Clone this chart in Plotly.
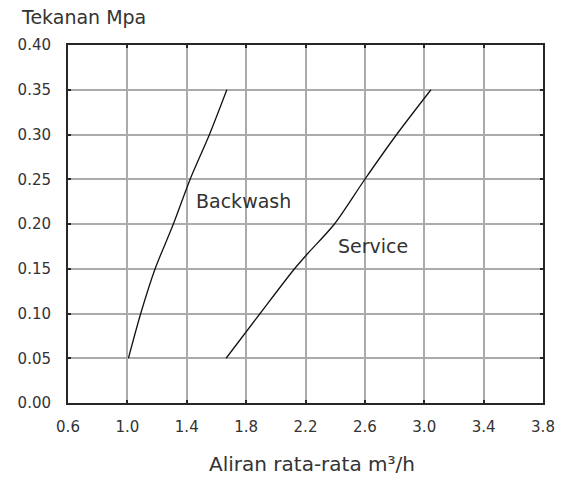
import plotly.graph_objects as go

backwash_x = [1.007, 1.09, 1.187, 1.31, 1.423, 1.553, 1.67]
backwash_y = [0.05, 0.10, 0.15, 0.20, 0.25, 0.30, 0.35]
service_x = [1.665, 1.894, 2.126, 2.215, 2.395, 2.60, 2.814, 3.045]
service_y = [0.05, 0.10, 0.15, 0.167, 0.20, 0.25, 0.30, 0.35]

x_ticks = [0.6, 1.0, 1.4, 1.8, 2.2, 2.6, 3.0, 3.4, 3.8]
x_tick_labels = ["0.6", "1.0", "1.4", "1.8", "2.2", "2.6", "3.0", "3.4", "3.8"]
y_ticks = [0.00, 0.05, 0.10, 0.15, 0.20, 0.25, 0.30, 0.35, 0.40]
y_tick_labels = ["0.00", "0.05", "0.10", "0.15", "0.20", "0.25", "0.30", "0.35", "0.40"]

label_names = ["Backwash", "Service"]
label_x = [1.779, 2.655]
label_y = [0.2256, 0.175]

FONT = "DejaVu Sans"
TXT = "#333333"

fig = go.Figure()
for xs, ys in ((backwash_x, backwash_y), (service_x, service_y)):
    fig.add_trace(go.Scatter(x=xs, y=ys, mode="lines",
                             line=dict(color="#111111", width=1.3, shape="spline", smoothing=0.8),
                             showlegend=False, hoverinfo="skip"))

for name, lx, ly in zip(label_names, label_x, label_y):
    fig.add_annotation(x=lx, y=ly, text=name, showarrow=False,
                       font=dict(family=FONT, size=19, color=TXT))

# plot area: 475 x 358 px
fig.add_annotation(xref="paper", yref="paper", x=-0.103, y=1, yanchor="middle",
                   xanchor="left", yshift=28, text="Tekanan Mpa", showarrow=False,
                   font=dict(family=FONT, size=19, color=TXT))
fig.add_annotation(xref="paper", yref="paper", x=0.514, y=0, yanchor="middle",
                   yshift=-61, text="Aliran rata-rata m³/h", showarrow=False,
                   font=dict(family=FONT, size=20, color=TXT))

axis_common = dict(showline=True, linecolor="#262626", linewidth=2, mirror="allticks",
                   ticks="inside", ticklen=3, tickcolor="#262626", tickwidth=2,
                   showgrid=True, gridcolor="#ababab", gridwidth=2, zeroline=False,
                   automargin=False,
                   tickfont=dict(family=FONT, size=15, color=TXT))

fig.update_xaxes(range=[0.6, 3.8], tickvals=x_ticks, ticktext=x_tick_labels,
                 ticklabelstandoff=9, **axis_common)
fig.update_yaxes(range=[0, 0.40], tickvals=y_ticks, ticktext=y_tick_labels,
                 ticklabelstandoff=12, **axis_common)

fig.update_layout(width=562, height=478, margin=dict(l=68, r=19, t=45, b=75),
                  plot_bgcolor="white", paper_bgcolor="white",
                  font=dict(family=FONT, color=TXT))

# remove the page's default 8px body margin so the figure fills the window
fig.write_html("out.html",
               config={"displayModeBar": False, "staticPlot": True},
               post_script="document.body.style.margin='0';document.body.style.overflow='hidden';")
